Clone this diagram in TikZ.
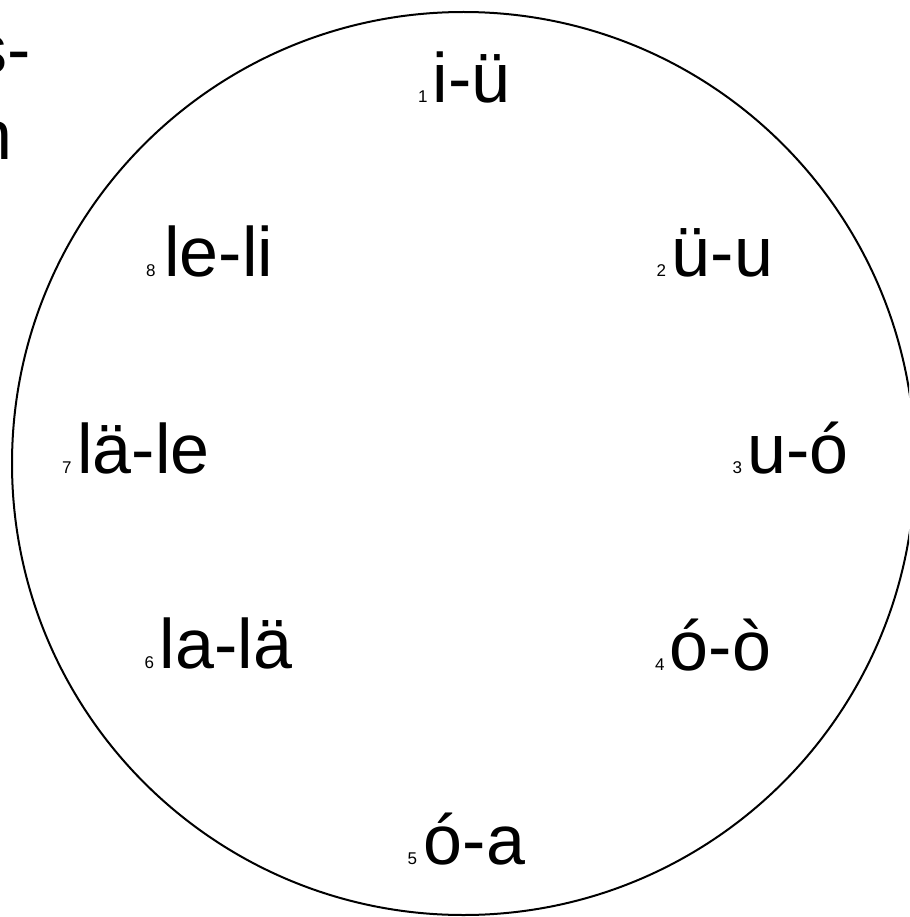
\documentclass[tikz,border=0pt]{standalone}
\usepackage{fontspec}
\setmainfont{Liberation Sans}
\begin{document}
\begin{tikzpicture}[x=1pt,y=-1pt,
  lbl/.style={anchor=base west,inner sep=0pt,outer sep=0pt},
  cut/.style={anchor=base east,inner sep=0pt,outer sep=0pt,font=\fontsize{70}{70}\selectfont}]
\useasboundingbox (0,0) rectangle (909,917);
\clip (0,0) rectangle (909,917);
\newcommand{\lab}[3][6pt]{{\fontsize{17}{17}\selectfont #2}\kern#1{\fontsize{70}{70}\selectfont #3}}
\node[cut] (t1) at (31,74) {s-};
\node[cut] (t2) at (12,160) {n};
\draw[line width=2pt] (463.5,463.5) circle[radius=451.5];
\node[lbl] (l1) at (418,103) {\lab[5pt]{1}{i-ü}};
\node[lbl] (l2) at (656.5,276) {\lab{2}{ü-u}};
\node[lbl] (l3) at (732.5,473) {\lab[5.5pt]{3}{u-ó}};
\node[lbl] (l4) at (655,670) {\lab[5.5pt]{4}{ó-ò}};
\node[lbl] (l5) at (407.5,864) {\lab[7pt]{5}{ó-a}};
\node[lbl] (l6) at (144.5,668) {\lab{6}{la-lä}};
\node[lbl] (l7) at (62,473) {\lab{7}{lä-le}};
\node[lbl] (l8) at (146,276) {\lab[9pt]{8}{le-li}};
\end{tikzpicture}
\end{document}
